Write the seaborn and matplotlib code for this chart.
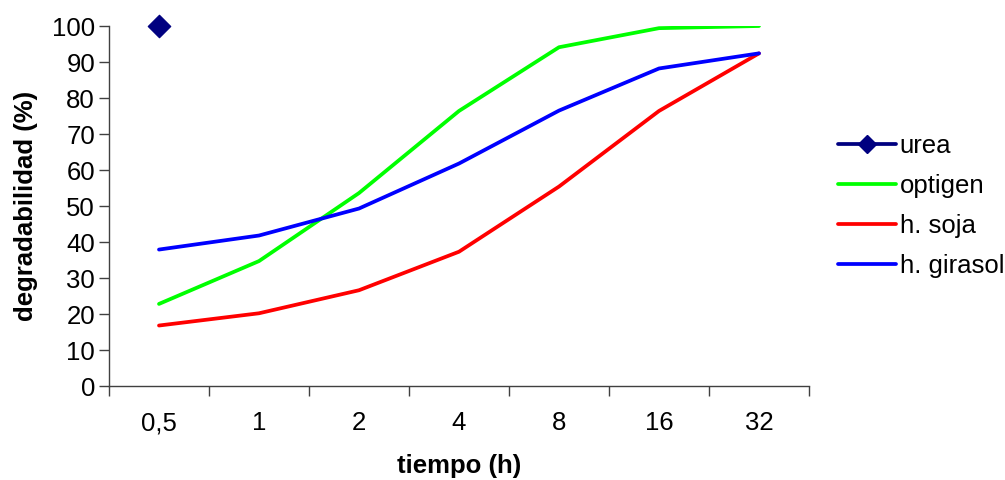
import matplotlib
matplotlib.use("Agg")
import matplotlib.pyplot as plt
from matplotlib.lines import Line2D
import seaborn as sns
import pandas as pd
import numpy as np

categories = ["0,5", "1", "2", "4", "8", "16", "32"]
urea = [100]
optigen = [22.8, 34.7, 53.6, 76.4, 94.1, 99.4, 100.0]
soja = [16.8, 20.2, 26.6, 37.3, 55.4, 76.4, 92.4]
girasol = [37.9, 41.8, 49.3, 61.8, 76.5, 88.2, 92.4]
series_names = ["optigen", "h. soja", "h. girasol"]
yticks = [0, 10, 20, 30, 40, 50, 60, 70, 80, 90, 100]

colors = {"urea": "#000080", "optigen": "#00FF00", "h. soja": "#FF0000", "h. girasol": "#0000FF"}

rows = []
for name, vals in zip(series_names, [optigen, soja, girasol]):
    for i, v in enumerate(vals):
        rows.append({"pos": i, "value": v, "serie": name})
df = pd.DataFrame(rows)
df_urea = pd.DataFrame({"pos": list(range(len(urea))), "value": urea})

sns.set_style("white")
plt.rcParams["font.family"] = ["Liberation Sans", "DejaVu Sans"]
plt.rcParams["text.color"] = "black"
plt.rcParams["axes.labelcolor"] = "black"
plt.rcParams["xtick.color"] = "black"
plt.rcParams["ytick.color"] = "black"

FS = 18.5
LW = 2.7

fig = plt.figure(figsize=(10.05, 4.8), dpi=100)
ax = fig.add_axes([109 / 1005, 94 / 480, 700 / 1005, 360 / 480])

sns.lineplot(data=df, x="pos", y="value", hue="serie", palette=colors,
             hue_order=series_names, linewidth=LW, ax=ax, legend=False)
sns.scatterplot(data=df_urea, x="pos", y="value", marker="D", s=130,
                color=colors["urea"], edgecolor=colors["urea"], ax=ax,
                legend=False, clip_on=False, zorder=5)

ax.set_xlim(-0.5, len(categories) - 0.5)
ax.set_ylim(0, 100)
ax.set_yticks(yticks)
ax.set_yticklabels([str(t) for t in yticks], fontsize=FS)
ax.set_xticks(range(len(categories)))
ax.set_xticklabels(categories, fontsize=FS)
ax.set_xticks(np.arange(-0.5, len(categories), 1.0), minor=True)
ax.tick_params(axis="x", which="major", bottom=True, length=0, pad=18, labelcolor="black")
ax.tick_params(axis="x", which="minor", bottom=True, length=7, width=1, color="#404040", direction="out")
ax.tick_params(axis="y", which="major", left=True, length=7, width=1, color="#404040", direction="out", pad=3, labelcolor="black")

for s in ["top", "right"]:
    ax.spines[s].set_visible(False)
for s in ["left", "bottom"]:
    ax.spines[s].set_color("#404040")
    ax.spines[s].set_linewidth(1)

ax.set_xlabel("tiempo (h)", fontsize=FS, fontweight="bold", labelpad=14, color="black")
ax.set_ylabel("degradabilidad (%)", fontsize=FS, fontweight="bold", labelpad=10, color="black")

handles = [Line2D([0], [0], color=colors["urea"], lw=LW, marker="D", markersize=9),
           Line2D([0], [0], color=colors["optigen"], lw=LW),
           Line2D([0], [0], color=colors["h. soja"], lw=LW),
           Line2D([0], [0], color=colors["h. girasol"], lw=LW)]
labels = ["urea"] + series_names
leg = fig.legend(handles, labels, loc="center left", bbox_to_anchor=(815 / 1005, 1 - 206 / 480),
                 frameon=False, fontsize=FS, handlelength=2.25, handletextpad=0.15,
                 labelspacing=0.62)
for t in leg.get_texts():
    t.set_color("black")

fig.savefig("out.png", dpi=100)
